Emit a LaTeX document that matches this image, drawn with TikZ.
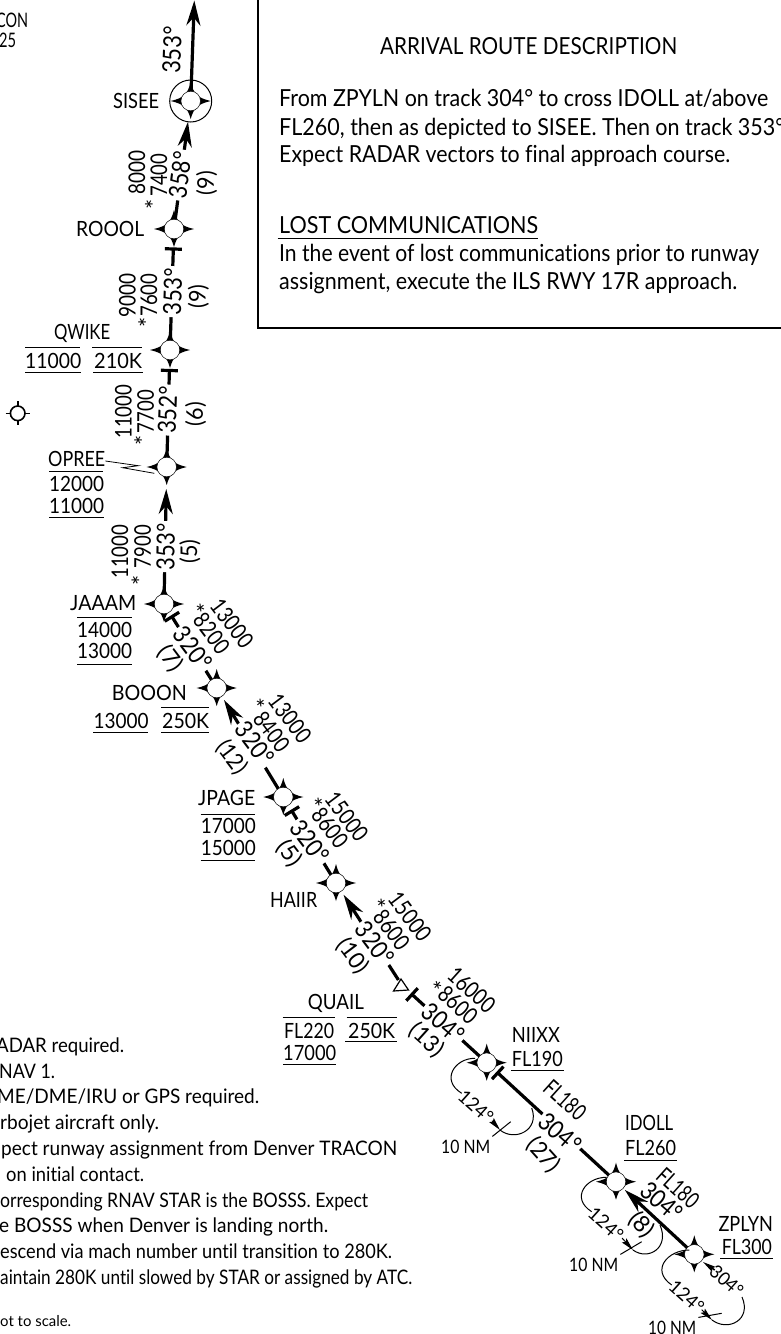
\documentclass[tikz,border=0pt]{standalone}
\usepackage{fontspec}
\usepackage{graphicx}
\usetikzlibrary{calc,arrows.meta}
\setmainfont[RawFeature={-liga}]{Lato}
% \T{width}{text}: text set to the reference's measured width
\newcommand{\T}[2]{\resizebox{#1pt}{\height}{#2}}
% asterisk centred on its node
\newcommand{\Ast}{\smash{\raisebox{-13pt}{*}}}
\tikzset{
  x=1pt,y=-1pt,
  route/.style={line width=3.2pt,line cap=butt},
  rarrow/.style={route,-{Stealth[length=25pt,width=14pt,inset=8pt]}},
  tbar/.style={line width=3.2pt},
  thin line/.style={line width=1pt},
  rule/.style={line width=1pt},
  holdarrow/.style={line width=1pt,-{Stealth[length=13pt,width=6pt,inset=2pt]}},
  tx/.style={anchor=base west,inner sep=0pt,font=\fontsize{21}{21}\selectfont},
  note/.style={anchor=base west,inner sep=0pt,font=\fontsize{20}{21}\selectfont},
  boxt/.style={anchor=base west,inner sep=0pt,font=\fontsize{23.5}{24}\selectfont},
  brg/.style={inner sep=0pt,inner xsep=2pt,fill=white,font=\fontsize{25}{25}\selectfont},
  alt/.style={inner sep=0pt,font=\fontsize{23}{23}\selectfont},
  small/.style={inner sep=0pt,font=\fontsize{18.5}{18.5}\selectfont},
  ast/.style={inner sep=0pt,font=\fontsize{24}{24}\selectfont},
}
% star symbol
\newcommand{\wpstar}[1]{%
  \fill[black] ($(#1)+(-20,0)$) .. controls ($(#1)+(-7,-3)$) and ($(#1)+(-3,-7)$) .. ($(#1)+(0,-19)$)
     .. controls ($(#1)+(3,-7)$) and ($(#1)+(7,-3)$) .. ($(#1)+(20,0)$)
     .. controls ($(#1)+(7,3)$) and ($(#1)+(3,7)$) .. ($(#1)+(0,18)$)
     .. controls ($(#1)+(-3,7)$) and ($(#1)+(-7,3)$) .. cycle;
  \fill[white,draw=black,line width=.5pt] (#1) circle (9.8pt);}
% cross bar on a route, #3 pt from #1 towards #2
\newcommand{\crossbar}[3]{%
  \coordinate (cb) at ($(#1)!#3pt!(#2)$);
  \draw[tbar] ($(cb)!8.5pt!90:(#2)$) -- ($(cb)!8.5pt!-90:(#2)$);}
\begin{document}
\begin{tikzpicture}
\useasboundingbox (0,0) rectangle (781,1334);
\fill[white] (0,0) rectangle (781,1334);
% waypoints
\coordinate (sisee) at (190.7,101);
\coordinate (roool) at (174,229);
\coordinate (qwike) at (170,350);
\coordinate (opree) at (166.7,467);
\coordinate (jaaam) at (164,604);
\coordinate (booon) at (216.7,688);
\coordinate (jpage) at (283.3,797);
\coordinate (haiir) at (336,883);
\coordinate (quail) at (401.7,985);
\coordinate (niixx) at (486.7,1062.7);
\coordinate (idoll) at (616,1181.7);
\coordinate (zplyn) at (694.3,1254.3);
\coordinate (top) at (194.3,0.5);
% routes
\draw[rarrow] (sisee) -- (top);
\draw[rarrow,shorten >=21pt] (roool) -- (sisee);
\draw[route,shorten >=20pt] (qwike) -- (roool);
\draw[route,shorten >=20pt] (opree) -- (qwike);
\draw[rarrow,shorten >=22pt] (jaaam) -- (opree);
\draw[route,shorten <=15pt] (jaaam) -- (booon);
\draw[rarrow,shorten >=14pt] (jpage) -- (booon);
\draw[route,shorten <=16pt] (jpage) -- (haiir);
\draw[rarrow,shorten >=14pt,shorten <=6pt] (quail) -- (haiir);
\draw[route,shorten <=14pt] (quail) -- (niixx);
\draw[route,shorten <=15pt] (niixx) -- (idoll);
\draw[rarrow,shorten >=12pt] (zplyn) -- (idoll);
% bars
\crossbar{roool}{qwike}{20}
\crossbar{qwike}{opree}{20.5}
\crossbar{jaaam}{booon}{15}
\crossbar{jpage}{haiir}{16.5}
\crossbar{quail}{niixx}{14}
\crossbar{niixx}{idoll}{15}
% bearings
\node[brg,rotate=88,fill=none] (b1) at (172,50) {\T{47}{353°}};
\node[brg,rotate=83] (b2) at (180,175) {\T{47}{358°}};
\node[brg,rotate=88] (b3) at (172.7,291.7) {\T{47}{353°}};
\node[brg,rotate=88] (b4) at (167.5,410) {\T{47}{352°}};
\node[brg,rotate=89] (b5) at (165.7,546.7) {\T{47}{353°}};
\node[brg,rotate=-53] (b6) at (193,648.3) {\T{47}{320°}};
\node[brg,rotate=-53] (b7) at (255,743.3) {\T{47}{320°}};
\node[brg,rotate=-53] (b8) at (310,841.7) {\T{47}{320°}};
\node[brg,rotate=-53] (b9) at (375,943.3) {\T{47}{320°}};
\node[brg,rotate=-41] (b10) at (443.3,1023.3) {\T{47}{304°}};
\node[brg,rotate=-41] (b11) at (560,1133) {\T{47}{304°}};
\node[brg,fill=none,rotate=-41] (b12) at (661.7,1201.7) {\T{47}{304°}};
% stars
\draw[thin line] (sisee) circle (21pt);
\foreach \w in {sisee,roool,qwike,opree,jaaam,booon,jpage,haiir,niixx,idoll,zplyn}{\wpstar{\w}}
% Quail triangle
\draw[line width=1.2pt,fill=white] (401,979) -- (393.5,991) -- (408.5,990) -- cycle;
% vor symbol
\coordinate (vor) at (17.7,413.3);
\draw[line width=1.6pt] (vor) circle (7.3pt);
\draw[line width=1.6pt] ($(vor)+(-12,0)$) -- ($(vor)+(-7,0)$) ($(vor)+(7,0)$) -- ($(vor)+(12,0)$)
   ($(vor)+(0,-12)$) -- ($(vor)+(0,-7)$) ($(vor)+(0,7)$) -- ($(vor)+(0,12)$);
% altitude labels
\node[alt,rotate=90] (a1) at (137,172) {\T{44}{8000}};
\node[alt,rotate=90] (a2) at (159,175) {\T{43}{7400}};
\node[ast,rotate=90] (s2) at (150,204) {\Ast};
\node[alt,rotate=90] (a3) at (206.7,183) {\T{24}{(9)}};
\node[alt,rotate=90] (a4) at (127.3,295) {\T{44}{9000}};
\node[alt,rotate=90] (a5) at (149,295) {\T{43}{7600}};
\node[ast,rotate=90] (s5) at (143.3,322.7) {\Ast};
\node[alt,rotate=90] (a6) at (198.3,296.7) {\T{24}{(9)}};
\node[alt,rotate=90] (a7) at (123.3,411.7) {\T{54}{11000}};
\node[alt,rotate=90] (a8) at (145.7,411.7) {\T{43}{7700}};
\node[ast,rotate=90] (s8) at (139.3,440.7) {\Ast};
\node[alt,rotate=90] (a9) at (195.7,414) {\T{24}{(6)}};
\node[alt,rotate=90] (a10) at (120,551.7) {\T{54}{11000}};
\node[alt,rotate=90] (a11) at (142.7,546.7) {\T{43}{7900}};
\node[ast,rotate=90] (s11) at (136.7,580) {\Ast};
\node[alt,rotate=90] (a12) at (190,551.7) {\T{24}{(5)}};
\node[alt,rotate=-53] (a13) at (232,623.3) {\T{55}{13000}};
\node[alt,rotate=-53] (a14) at (211.7,633.3) {\T{44}{8200}};
\node[ast,rotate=-53] (s14) at (200,608.3) {\Ast};
\node[alt,rotate=-53] (a15) at (170,659) {\T{26}{(7)}};
\node[alt,rotate=-53] (a16) at (290,718.3) {\T{55}{13000}};
\node[alt,rotate=-53] (a17) at (271.7,731.7) {\T{44}{8400}};
\node[ast,rotate=-53] (s17) at (260,704) {\Ast};
\node[alt,rotate=-53] (a18) at (231.7,757.3) {\T{36}{(12)}};
\node[alt,rotate=-53] (a19) at (346.7,816.7) {\T{55}{15000}};
\node[alt,rotate=-53] (a20) at (330,828) {\T{44}{8600}};
\node[ast,rotate=-53] (s20) at (318.3,802.7) {\Ast};
\node[alt,rotate=-53] (a21) at (289.3,853.3) {\T{26}{(5)}};
\node[alt,rotate=-53] (a22) at (410,916.7) {\T{55}{15000}};
\node[alt,rotate=-53] (a23) at (391.7,930) {\T{44}{8600}};
\node[ast,rotate=-53] (s23) at (380.7,903.3) {\Ast};
\node[alt,rotate=-53] (a24) at (352.7,956) {\T{38}{(10)}};
\node[alt,rotate=-42] (a25) at (471.7,990) {\T{55}{16000}};
\node[alt,rotate=-42] (a26) at (458,1005) {\T{44}{8600}};
\node[ast,rotate=-42] (s26) at (437.3,986) {\Ast};
\node[alt,rotate=-42] (a27) at (426.7,1040) {\T{38}{(13)}};
\node[alt,rotate=-42] (a28) at (565,1100) {\T{48}{FL180}};
\node[alt,rotate=-48] (a29) at (543.3,1155) {\T{38}{(27)}};
\node[alt,rotate=-42] (a30) at (678,1188) {\T{48}{FL180}};
\node[alt,rotate=-48] (a31) at (641.7,1225) {\T{26}{(8)}};
% fix names and restrictions
\node[tx] (sn) at (113,108) {\T{46}{SISEE}};
\node[tx] (rn) at (76,236.5) {\T{68}{ROOOL}};
\node[tx] (qn) at (54,339) {\T{56}{QWIKE}};
\node[tx] (q1) at (25,368) {\T{56}{11000}};
\node[tx] (q2) at (94,368) {\T{48}{210K}};
\draw[rule] (25,347.3) -- (80,347.3) (92,347.3) -- (142,347.3) (25,372.5) -- (81,372.5) (93,372.5) -- (143,372.5);
\node[tx] (on) at (48,466.5) {\T{57}{OPREE}};
\node[tx] (o1) at (49,491.5) {\T{55}{12000}};
\node[tx] (o2) at (49,513.5) {\T{55}{11000}};
\draw[rule] (49,471.7) -- (103,471.7) (49,517.7) -- (104,517.7);
\draw[line width=.8pt] (on.east |- 0,461) -- (138.3,465.7) -- (122.7,467.7) -- (154.3,473.3);
\node[tx] (jn) at (70,610) {\T{66}{JAAAM}};
\node[tx] (j1) at (77,637) {\T{55}{14000}};
\node[tx] (j2) at (77,658) {\T{55}{13000}};
\draw[rule] (77,617.3) -- (132,617.3) (77,664.3) -- (132,664.3);
\node[tx] (bn) at (111.7,700) {\T{75}{BOOON}};
\node[tx] (b1a) at (93.3,728) {\T{55}{13000}};
\node[tx] (b2a) at (162,728) {\T{47}{250K}};
\draw[rule] (161,707.3) -- (209,707.3) (93.3,732.7) -- (148.3,732.7) (161,732.7) -- (209,732.7);
\node[tx] (jpn) at (198,805.5) {\T{57}{JPAGE}};
\node[tx] (jp1) at (200.7,833.5) {\T{55}{17000}};
\node[tx] (jp2) at (200.7,855) {\T{55}{15000}};
\draw[rule] (200.7,814.3) -- (255,814.3) (200.7,860.7) -- (255,860.7);
\node[tx] (hn) at (270,907.5) {\T{47}{HAIIR}};
\node[tx] (qun) at (307.7,1009) {\T{56}{QUAIL}};
\node[tx] (qu1) at (284,1038) {\T{50}{FL220}};
\node[tx] (qu2) at (348,1038) {\T{47}{250K}};
\node[tx] (qu3) at (283,1060.5) {\T{53}{17000}};
\draw[rule] (282.7,1017.7) -- (335,1017.7) (346.7,1017.7) -- (397,1017.7) (345,1041.7) -- (397,1041.7) (283,1064) -- (336,1064);
\node[tx] (nn) at (511.7,1042.5) {\T{48}{NIIXX}};
\node[tx] (n1) at (511.7,1066.5) {\T{51}{FL190}};
\draw[rule] (511,1070.7) -- (564,1070.7);
\node[tx] (in) at (625,1130.5) {\T{48}{IDOLL}};
\node[tx] (i1) at (625,1155) {\T{51}{FL260}};
\draw[rule] (624,1160) -- (677,1160);
\node[tx] (zn) at (718.3,1231.5) {\T{54.5}{ZPLYN}};
\node[tx] (z1) at (721.7,1254) {\T{50}{FL300}};
\draw[rule] (720,1258.3) -- (773,1258.3);
% hold at NIIXX
\coordinate (h1a) at (475,1058.3);
\coordinate (h1b) at (461.7,1093.3);
\coordinate (h1c) at (500,1130);
\coordinate (h1d) at (531.7,1108);
\draw[thin line] (h1a) .. controls (455,1058) and (440,1080) .. (h1b);
\draw[thin line] (h1c) .. controls (515,1142) and (540,1130) .. (h1d);
\node[small,rotate=-42] (h1l) at (476,1106.7) {\T{40}{124°}};
\draw[holdarrow] (h1l) ++(16,14) coordinate (h1s) (h1s) -- (h1c);
\coordinate (h1p) at (510.7,1121.7);
\node[small,anchor=base west] (h1n) at (441,1153) {\T{49}{10 NM}};
\draw[thin line] (h1n.north east) ++(2,-3) coordinate (h1q) (h1q) -- (h1p);
% hold at IDOLL
\coordinate (h2a) at (606.7,1177.3);
\coordinate (h2b) at (591.7,1211.7);
\coordinate (h2c) at (633,1250);
\coordinate (h2d) at (660,1225);
\draw[thin line] (h2a) .. controls (586,1177) and (570,1198) .. (h2b);
\draw[thin line] (h2c) .. controls (648,1261) and (670,1248) .. (h2d);
\node[small,rotate=-42] (h2l) at (606,1224) {\T{40}{124°}};
\draw[holdarrow] (h2l) ++(16,14) coordinate (h2s) (h2s) -- (h2c);
\coordinate (h2p) at (641.7,1241.7);
\node[small,anchor=base west] (h2n) at (569,1271) {\T{49}{10 NM}};
\draw[thin line] (h2n.north east) ++(2,-3) coordinate (h2q) (h2q) -- (h2p);
% hold at ZPLYN
\coordinate (h3a) at (689.3,1250);
\coordinate (h3b) at (671.7,1285);
\coordinate (h3c) at (712,1320);
\coordinate (h3d) at (742,1297);
\draw[thin line] (h3a) .. controls (668,1250) and (650,1270) .. (h3b);
\draw[thin line] (h3c) .. controls (728,1332) and (752,1320) .. (h3d);
\node[small,rotate=-42] (h3l) at (686.7,1296.7) {\T{40}{124°}};
\draw[holdarrow] (h3l) ++(15,13) coordinate (h3s) (h3s) -- (h3c);
\coordinate (h3p) at (721.7,1313.3);
\node[small,anchor=base west] (h3n) at (648,1334) {\T{48}{10 NM}};
\draw[thin line] (h3n.north east) ++(2,-3) coordinate (h3q) (h3q) -- (h3p);
\node[small,rotate=-42] (h3o) at (726.7,1281) {\T{38}{304°}};
\coordinate (h3t) at (703,1262);
\draw[holdarrow,line width=1.6pt] ($(h3o)+(-12,-11)$) coordinate (h3u) (h3u) -- (h3t);
% top-left text
\node[note] (tl1) at (-4,27) {\T{32}{CON}};
\node[note] (tl2) at (-1,47) {\T{17}{25}};
% description box
\draw[line width=2.4pt] (257.7,0) -- (257.7,328) -- (781,328);
\node[boxt] (d0) at (380,54) {\T{297}{ARRIVAL ROUTE DESCRIPTION}};
\node[boxt] (d1) at (279,106.7) {\T{489}{From ZPYLN on track 304° to cross IDOLL at/above}};
\node[boxt] (d2) at (279,135) {\T{505}{FL260, then as depicted to SISEE. Then on track 353°}};
\node[boxt] (d3) at (279,162.7) {\T{451}{Expect RADAR vectors to final approach course.}};
\node[boxt] (d4) at (279,233.3) {\T{259}{LOST COMMUNICATIONS}};
\draw[line width=1.1pt] (277.7,238.3) -- (538,238.3);
\node[boxt] (d5) at (279,261.7) {\T{480}{In the event of lost communications prior to runway}};
\node[boxt] (d6) at (279,289.3) {\T{458}{assignment, execute the ILS RWY 17R approach.}};
% notes
\node[note] (n1a) at (-4,1052) {\T{128}{ADAR required.}};
\node[note] (n2a) at (-1,1078) {\T{56}{NAV 1.}};
\node[note] (n3a) at (-3,1103.5) {\T{262}{ME/DME/IRU or GPS required.}};
\node[note] (n4a) at (0,1129) {\T{159}{rbojet aircraft only.}};
\node[note] (n5a) at (1,1155) {\T{396}{pect runway assignment from Denver TRACON}};
\node[note] (n6a) at (6,1181) {\T{138}{on initial contact.}};
\node[note] (n7a) at (0,1207) {\T{368}{orresponding RNAV STAR is the BOSSS.  Expect}};
\node[note] (n8a) at (-1,1232.5) {\T{329}{e BOSSS when Denver is landing north.}};
\node[note] (n9a) at (0,1258) {\T{392}{escend via mach number until transition to 280K.}};
\node[note] (n10a) at (0,1284) {\T{412}{aintain 280K until slowed by STAR or assigned by ATC.}};
\node[note,font=\fontsize{15}{15}\selectfont] (n11a) at (0,1326) {\T{71}{ot to scale.}};
\end{tikzpicture}
\end{document}
